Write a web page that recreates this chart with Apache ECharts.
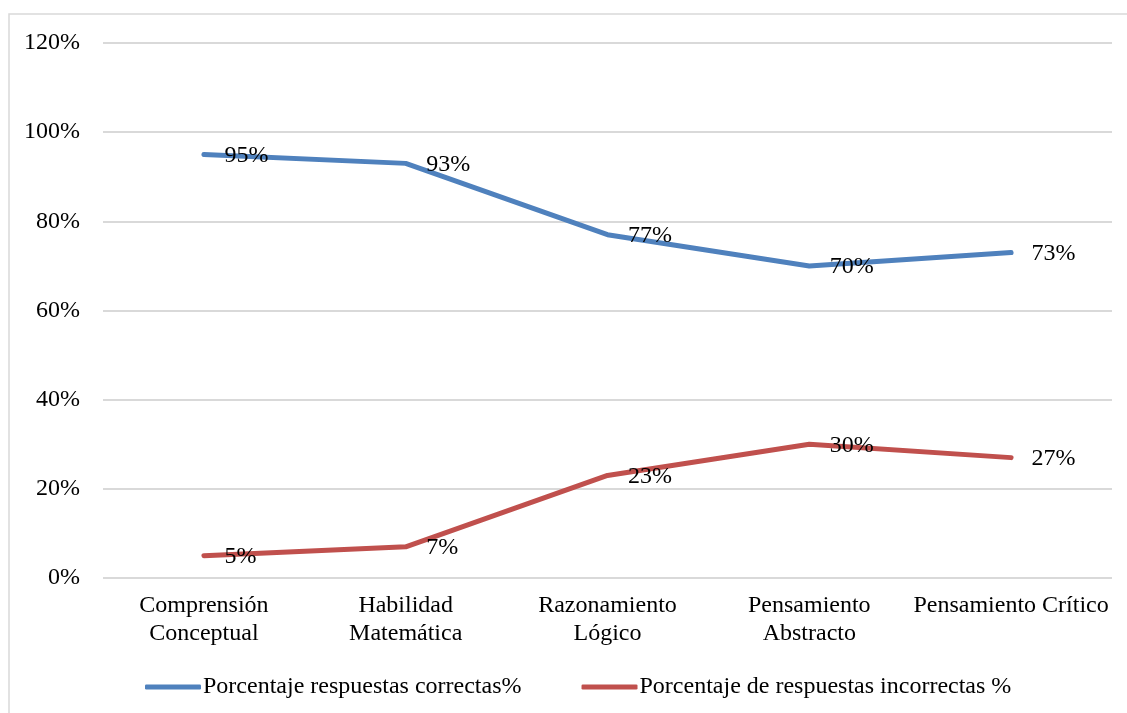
<!DOCTYPE html>
<html>
<head>
<meta charset="utf-8">
<script src="https://cdn.jsdelivr.net/npm/echarts@6/dist/echarts.min.js"></script>
<style>
  html, body { margin: 0; padding: 0; background: #ffffff; }
  #chart { width: 1127px; height: 713px; }
</style>
</head>
<body>
<div id="chart"></div>
<script>
// Skill areas evaluated
const categories = [
  'Comprensión Conceptual',
  'Habilidad Matemática',
  'Razonamiento Lógico',
  'Pensamiento Abstracto',
  'Pensamiento Crítico'
];

// Category tick labels as printed under the axis
const xTickLabels = [
  'Comprensión\nConceptual',
  'Habilidad\nMatemática',
  'Razonamiento\nLógico',
  'Pensamiento\nAbstracto',
  'Pensamiento Crítico'
];

// Share of answers per area (%)
const correctas = [95, 93, 77, 70, 73];
const incorrectas = [5, 7, 23, 30, 27];

const seriesNames = [
  'Porcentaje respuestas correctas%',
  'Porcentaje de respuestas incorrectas %'
];

// Value axis ticks
const yTicks = [0, 20, 40, 60, 80, 100, 120];

const FONT = '"Liberation Serif", "Times New Roman", serif';
const BLUE = '#4f81bd';
const RED = '#c0504d';

const chart = echarts.init(document.getElementById('chart'), null, { renderer: 'canvas' });

function lineSeries(name, data, color) {
  return {
    name: name,
    type: 'line',
    data: data,
    symbol: 'circle',
    symbolSize: 1,
    itemStyle: { color: color },
    lineStyle: { color: color, width: 5, cap: 'round', join: 'round' },
    label: {
      show: true,
      position: 'right',
      distance: 20,
      offset: [0, 1],
      color: '#000000',
      fontFamily: FONT,
      fontSize: 24,
      formatter: p => p.value + '%'
    },
    emphasis: { disabled: true },
    animation: false
  };
}

chart.setOption({
  backgroundColor: '#ffffff',
  animation: false,
  graphic: [{
    type: 'rect',
    shape: { x: 9, y: 14, width: 1200, height: 800 },
    style: { fill: 'none', stroke: '#d9d9d9', lineWidth: 1.5 },
    silent: true
  }],
  grid: { left: 103, right: 15, top: 43, bottom: 135, containLabel: false },
  legend: {
    left: 140,
    top: 670,
    icon: 'roundRect',
    itemWidth: 56,
    itemHeight: 5,
    itemGap: 60,
    textStyle: { fontFamily: FONT, fontSize: 24, color: '#000000', padding: [0, 0, 0, -3] },
    data: seriesNames
  },
  xAxis: {
    type: 'category',
    data: categories,
    boundaryGap: true,
    axisLine: { show: false },
    axisTick: { show: false },
    axisLabel: {
      interval: 0,
      margin: 14,
      fontFamily: FONT,
      fontSize: 24,
      lineHeight: 28,
      color: '#000000',
      align: 'center',
      formatter: (v, i) => xTickLabels[i]
    }
  },
  yAxis: {
    type: 'value',
    min: yTicks[0],
    max: yTicks[yTicks.length - 1],
    interval: yTicks[1] - yTicks[0],
    axisLine: { show: false },
    axisTick: { show: false },
    splitLine: { lineStyle: { color: '#d9d9d9', width: 2 } },
    axisLabel: {
      margin: 23,
      fontFamily: FONT,
      fontSize: 24,
      color: '#000000',
      formatter: v => v + '%'
    }
  },
  series: [
    lineSeries(seriesNames[0], correctas, BLUE),
    lineSeries(seriesNames[1], incorrectas, RED)
  ]
});
</script>
</body>
</html>
